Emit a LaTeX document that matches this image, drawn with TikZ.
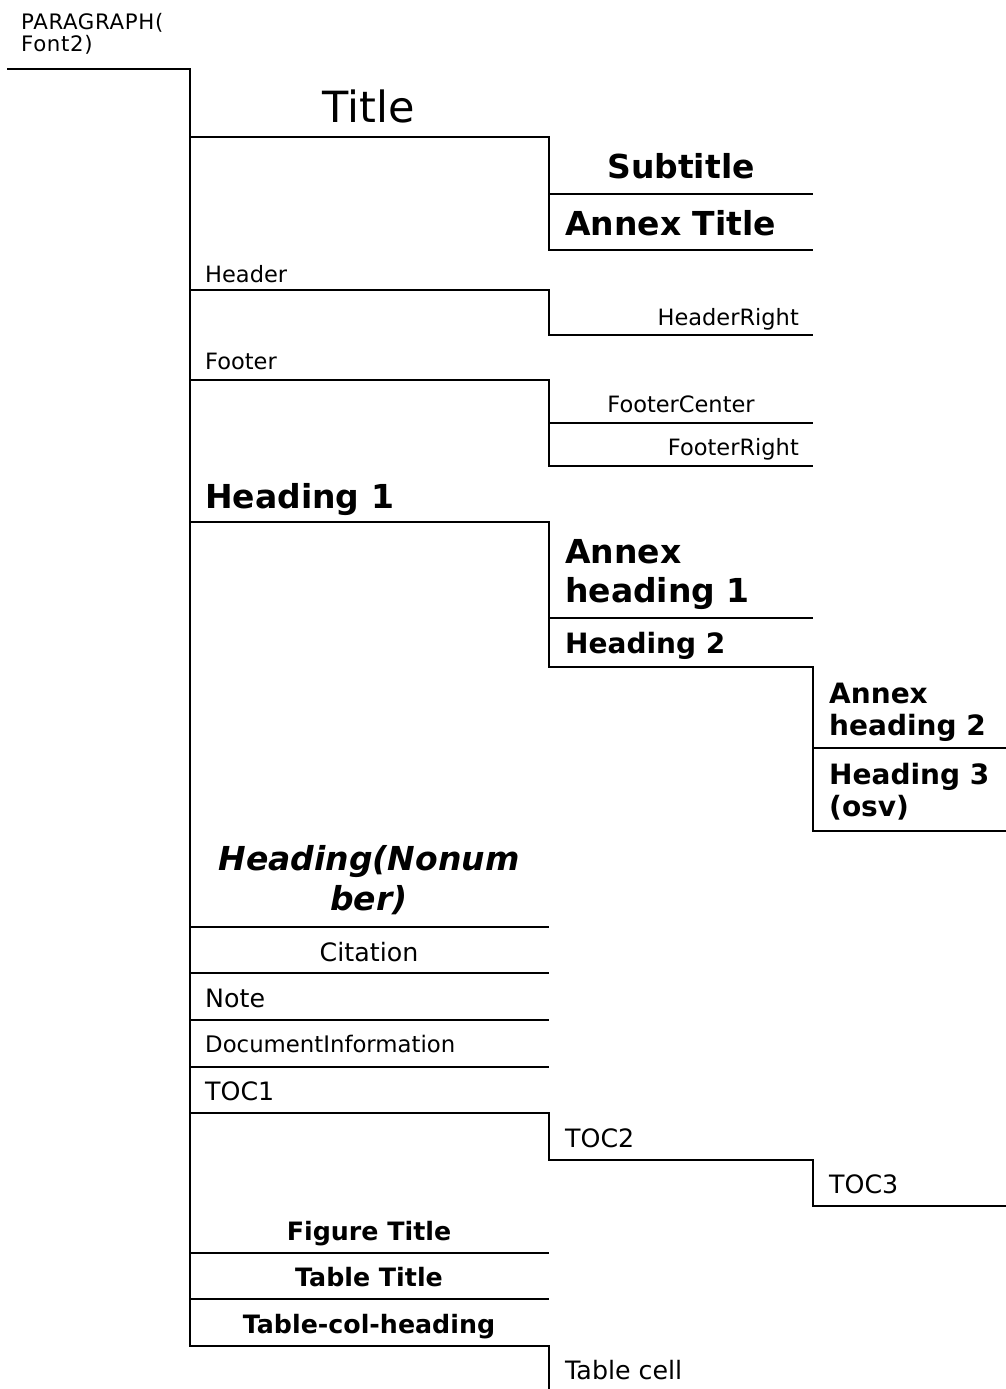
\documentclass[tikz,border=0pt]{standalone}
\usepackage{fontspec}
\setmainfont{DejaVu Sans}
\newcommand{\twoL}[3]{\vtop{\baselineskip=#1\lineskiplimit=-\maxdimen\lineskip=0pt\halign{##\hfil\cr#2\cr#3\cr}}}
\newcommand{\twoC}[3]{\vtop{\baselineskip=#1\lineskiplimit=-\maxdimen\lineskip=0pt\halign{\hfil##\hfil\cr#2\cr#3\cr}}}
\begin{document}
\begin{tikzpicture}[x=1pt,y=-1pt,
  ln/.style={line width=2pt,line join=miter,line cap=butt},
  txt/.style={inner sep=0pt,anchor=base west},
  ctr/.style={inner sep=0pt,anchor=base},
  rgt/.style={inner sep=0pt,anchor=base east},
  sm/.style={font=\fontsize{22.5}{27}\selectfont},
  smsp/.style={font=\fontsize{21.3}{25}\selectfont\addfontfeature{LetterSpace=3}},
  di/.style={font=\fontsize{22.8}{27}\selectfont},
  nm/.style={font=\fontsize{25.3}{30}\selectfont},
  bnm/.style={font=\fontsize{25.3}{30}\selectfont\bfseries},
  btw/.style={font=\fontsize{28}{32}\selectfont\bfseries},
  bbig/.style={font=\fontsize{33}{39}\selectfont\bfseries},
  bit/.style={font=\fontsize{33}{39}\selectfont\bfseries\itshape},
  ttl/.style={font=\fontsize{43}{50}\selectfont}]
\useasboundingbox (0,0) rectangle (1006,1389);
% named corner coordinates
\coordinate (p0) at (7,69);
\coordinate (sp) at (190,69);
\coordinate (se) at (190,1346);
% lines
\draw[ln] (p0) -- (sp) -- (se) -- (549,1346) -- (549,1389);
\draw[ln] (190,137) -- (549,137) -- (549,250) -- (813,250);
\draw[ln] (549,194) -- (813,194);
\draw[ln] (190,290) -- (549,290) -- (549,335) -- (813,335);
\draw[ln] (190,380) -- (549,380) -- (549,466) -- (813,466);
\draw[ln] (549,423) -- (813,423);
\draw[ln] (190,522) -- (549,522) -- (549,667) -- (813,667) -- (813,831) -- (1006,831);
\draw[ln] (549,618) -- (813,618);
\draw[ln] (813,748) -- (1006,748);
\draw[ln] (190,927) -- (549,927);
\draw[ln] (190,973) -- (549,973);
\draw[ln] (190,1020) -- (549,1020);
\draw[ln] (190,1067) -- (549,1067);
\draw[ln] (190,1113) -- (549,1113) -- (549,1160) -- (813,1160) -- (813,1206) -- (1006,1206);
\draw[ln] (190,1253) -- (549,1253);
\draw[ln] (190,1299) -- (549,1299);
% texts
\node[txt,smsp] (para) at (21,30) {\twoL{21.5pt}{PARAGRAPH(}{Font2)}};
\node[ctr,ttl] (title) at (369,122) {Title};
\node[ctr,bbig] (subtitle) at (681,178) {Subtitle};
\node[txt,bbig] (annextitle) at (565,235) {Annex Title};
\node[txt,sm] (header) at (205,282) {Header};
\node[rgt,sm] (headerright) at (799,325) {HeaderRight};
\node[txt,sm] (footer) at (205,369) {Footer};
\node[ctr,sm] (footercenter) at (681,412) {FooterCenter};
\node[rgt,sm] (footerright) at (799,455) {FooterRight};
\node[txt,bbig] (h1) at (205,508) {Heading 1};
\node[txt,bbig] (ah1) at (565,563) {\twoL{39pt}{Annex}{heading 1}};
\node[txt,btw] (h2) at (565,653) {Heading 2};
\node[txt,btw] (ah2) at (829,703) {\twoL{32pt}{Annex}{heading 2}};
\node[txt,btw] (h3) at (829,784) {\twoL{32pt}{Heading 3}{(osv)}};
\node[ctr,bit] (hnn) at (369,870) {\twoC{40pt}{Heading(Nonum}{ber)}};
\node[ctr,nm] (citation) at (369,961) {Citation};
\node[txt,nm] (note) at (205,1007) {Note};
\node[txt,di] (docinfo) at (205,1052) {DocumentInformation};
\node[txt,nm] (toc1) at (205,1100) {TOC1};
\node[txt,nm] (toc2) at (565,1147) {TOC2};
\node[txt,nm] (toc3) at (829,1193) {TOC3};
\node[ctr,bnm] (figtitle) at (369,1240) {Figure Title};
\node[ctr,bnm] (tabtitle) at (369,1286) {Table Title};
\node[ctr,bnm] (tabcol) at (369,1333) {Table-col-heading};
\node[txt,nm] (tabcell) at (565,1379) {Table cell};
\end{tikzpicture}
\end{document}
